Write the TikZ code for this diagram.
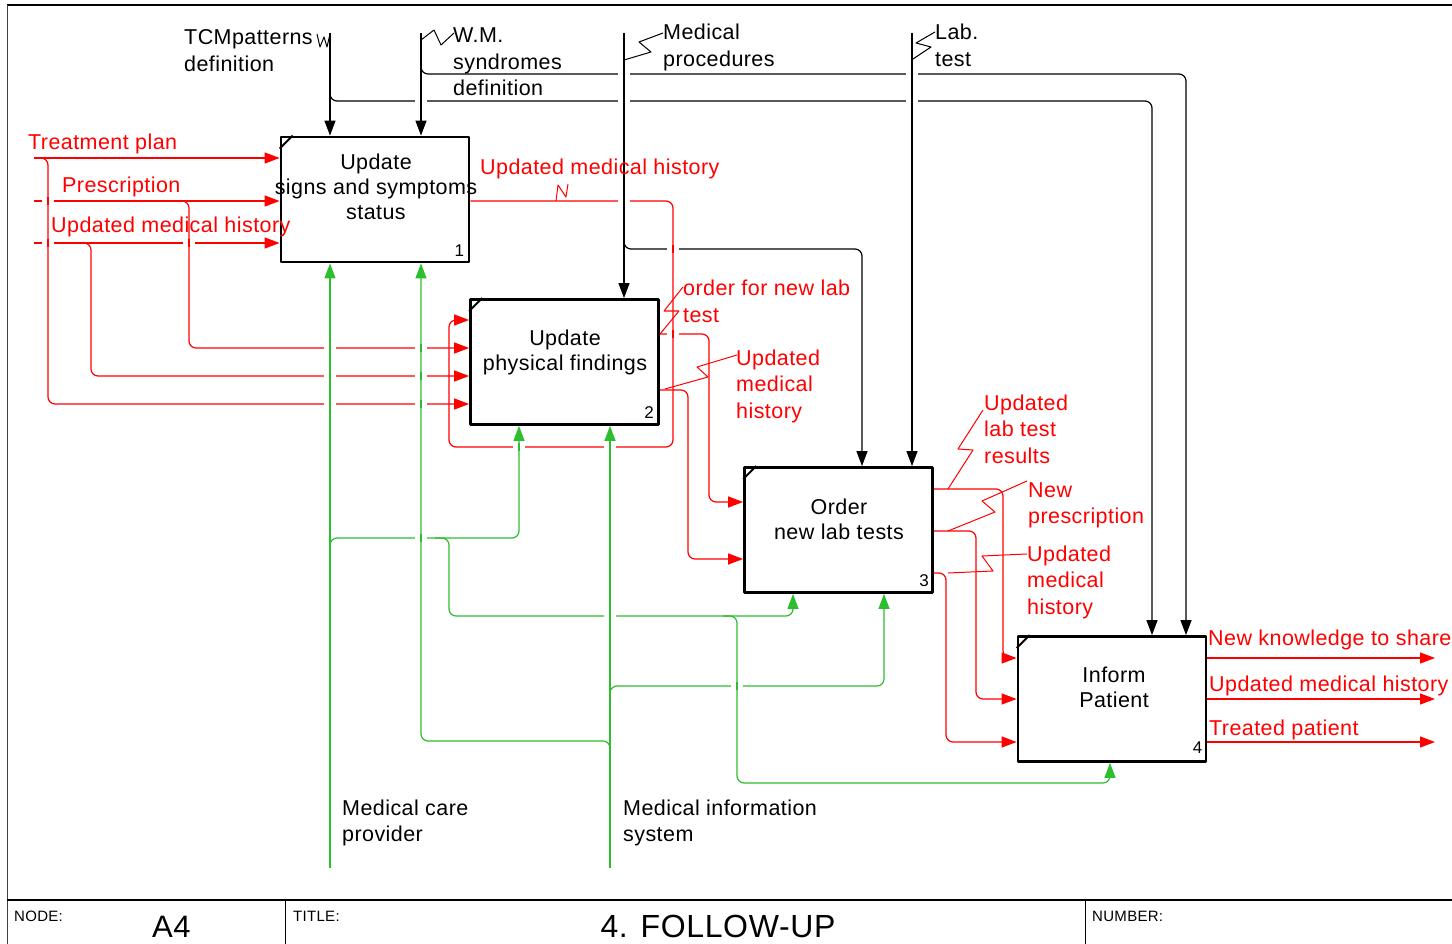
\documentclass[tikz,border=0pt]{standalone}
\usepackage{fontspec}
\setmainfont{Liberation Sans}[LetterSpace=2]
\usetikzlibrary{arrows.meta}
\definecolor{ired}{RGB}{255,0,0}
\definecolor{igreen}{RGB}{45,190,45}
\newcommand\ml[1]{\begin{tabular}[t]{@{}l@{}}#1\end{tabular}}
\newcommand\mc[1]{\begin{tabular}[t]{@{}c@{}}#1\end{tabular}}
\newcommand\xgap[3]{\fill[white] ({#1-6},{#2-2.6}) rectangle ({#1+6},{#2+2.6}); \draw[#3,line width=1.2pt] (#1,{#2-4}) -- (#1,{#2+4});}
\tikzset{
  box/.style={draw, line width=2.8pt, minimum width=188pt, minimum height=125pt, inner sep=0pt},
  fl/.style={line width=1.2pt, rounded corners=7pt},
  ctl/.style={fl, draw=black},
  inp/.style={fl, draw=ired},
  mech/.style={fl, draw=igreen},
  tip/.style={-{Triangle[length=15pt,width=11pt]}},
  sq/.style={line width=1pt, sharp corners},
  lab/.style={anchor=base west, inner sep=0pt, font=\fontsize{21.5}{26.5}\selectfont},
  redlab/.style={lab, text=ired},
  btxt/.style={anchor=base, inner sep=0pt, font=\fontsize{21.5}{25}\selectfont},
  bnum/.style={anchor=base east, inner sep=0pt, font=\fontsize{17}{19}\selectfont},
  tick/.style={line width=2pt},
  small/.style={anchor=base west, inner sep=0pt, font=\fontsize{15}{18}\selectfont},
}
\begin{document}
\begin{tikzpicture}[x=1pt,y=-1pt,line join=round]
\useasboundingbox (0,0) rectangle (1452,944);
\fill[white] (0,0) rectangle (1452,944);
% frame
\draw[line width=1.8pt] (7,5) -- (1452,5);
\draw[line width=1pt, black!75] (7,5) -- (7,944);
\draw[line width=2pt] (7,900) -- (1452,900);
\draw[line width=1pt] (285,900) -- (285,944);
\draw[line width=1pt] (1085,900) -- (1085,944);
% boxes
\node[box] (b1) at (375,199.5) {};
\node[box] (b2) at (564.5,362) {};
\node[box] (b3) at (838.5,530) {};
\node[box] (b4) at (1112,699) {};
\foreach \b in {b1,b2,b3,b4}
  \draw[tick] ([yshift=-13pt]\b.north west) -- ([xshift=13pt]\b.north west);
% free ends
\coordinate (tcm) at (330,33);
\coordinate (wm) at (421,33);
\coordinate (mp) at (624,33);
\coordinate (lt) at (912,33);
\coordinate (tp) at (34,158);
\coordinate (pr) at (34,201);
\coordinate (uh) at (34,243);
\coordinate (mc) at (330,868);
\coordinate (mi) at (610,868);
\coordinate (o1) at (1435,658);
\coordinate (o2) at (1435,699);
\coordinate (o3) at (1435,742);
% controls
\draw[ctl,tip] (tcm) -- (tcm |- b1.north);
\draw[ctl,tip] (330,88) -- (330,101) -- (1152,101) -- (1152,101 |- b4.north);
\draw[ctl,tip] (wm) -- (wm |- b1.north);
\draw[ctl,tip] (421,60) -- (421,74) -- (1186,74) -- (1186,74 |- b4.north);
\draw[ctl,tip] (mp) -- (mp |- b2.north);
\draw[ctl,tip] (624,235) -- (624,249) -- (862,249) -- (862,249 |- b3.north);
\draw[ctl,tip] (lt) -- (lt |- b3.north);
% inputs / outputs
\draw[inp,tip] (tp) -- (tp -| b1.west);
\draw[inp,tip] (tp) -- (48,158) -- (48,404) -- (48,404 -| b2.west);
\draw[inp,tip] (pr) -- (pr -| b1.west);
\draw[inp,tip] (175,201) -- (189,201) -- (189,348) -- (189,348 -| b2.west);
\draw[inp,tip] (uh) -- (uh -| b1.west);
\draw[inp,tip] (78,243) -- (91,243) -- (91,376) -- (91,376 -| b2.west);
\draw[inp,tip] (b1.east |- 0,201) -- (673,201) -- (673,447) -- (449,447) -- (449,320) -- (449,320 -| b2.west);
\draw[inp,tip] (b2.east |- 0,334) -- (709,334) -- (709,502) -- (709,502 -| b3.west);
\draw[inp,tip] (b2.east |- 0,390) -- (688,390) -- (688,559) -- (688,559 -| b3.west);
\draw[inp,tip] (b3.east |- 0,489) -- (1003,489) -- (1003,658) -- (1003,658 -| b4.west);
\draw[inp,tip] (b3.east |- 0,531) -- (976,531) -- (976,699) -- (976,699 -| b4.west);
\draw[inp,tip] (b3.east |- 0,573) -- (946,573) -- (946,742) -- (946,742 -| b4.west);
\draw[inp,tip] (b4.east |- o1) -- (o1);
\draw[inp,tip] (b4.east |- o2) -- (o2);
\draw[inp,tip] (b4.east |- o3) -- (o3);
% mechanisms
\draw[mech,tip] (mc) -- (mc |- b1.south);
\draw[mech,tip] (330,552) -- (330,538) -- (519,538) -- (519,538 |- b2.south);
\draw[mech,tip] (435,538) -- (449,538) -- (449,616) -- (793,616) -- (793,616 |- b3.south);
\draw[mech,tip] (723,616) -- (737,616) -- (737,783) -- (1110,783) -- (1110,783 |- b4.south);
\draw[mech,tip] (mi) -- (mi |- b2.south);
\draw[mech,tip] (610,700) -- (610,686) -- (884,686) -- (884,686 |- b3.south);
\draw[mech,tip] (610,755) -- (610,741) -- (421,741) -- (421,741 |- b1.south);
% crossing gaps
\xgap{624}{74}{black} \xgap{912}{74}{black}
\xgap{421}{101}{black} \xgap{624}{101}{black} \xgap{912}{101}{black}
\xgap{673}{249}{ired}
\xgap{624}{201}{black}
\xgap{48}{201}{ired} \xgap{48}{243}{ired} \xgap{189}{243}{ired}
\xgap{330}{348}{igreen} \xgap{421}{348}{igreen}
\xgap{330}{376}{igreen} \xgap{421}{376}{igreen}
\xgap{330}{404}{igreen} \xgap{421}{404}{igreen}
\xgap{673}{334}{ired}
\xgap{519}{447}{igreen} \xgap{610}{447}{igreen}
\xgap{421}{538}{igreen} \xgap{610}{616}{igreen} \xgap{737}{686}{igreen}
% squiggles
\draw[sq] (317,34) -- (320,47) -- (324,37) -- (327,47) -- (330,34);
\draw[sq] (421,40) -- (434,30) -- (441,45) -- (454,33);
\draw[sq] (624,60) -- (651,52) -- (639,42) -- (663,33);
\draw[sq] (913,59) -- (931,47) -- (916,43) -- (935,32);
\draw[sq,ired] (556,201) -- (558,185) -- (566,197) -- (568,184);
\draw[sq,ired] (660,334) -- (679,311) -- (664,311) -- (683,287);
\draw[sq,ired] (665,389) -- (708,377) -- (697,367) -- (737,355);
\draw[sq,ired] (948,489) -- (973,450) -- (958,449) -- (983,410);
\draw[sq,ired] (948,531) -- (995,512) -- (982,501) -- (1027,481);
\draw[sq,ired] (948,573) -- (993,571) -- (982,556) -- (1027,554);
% box texts
\node[btxt] (t1) at (376,170) {\mc{Update\\signs and symptoms\\status}};
\node[btxt] (t2) at (565,345) {\mc{Update\\physical findings}};
\node[btxt] (t3) at (839,514) {\mc{Order\\new lab tests}};
\node[btxt] (t4) at (1114,682) {\mc{Inform\\Patient}};
\node[bnum] (n1) at ([shift={(-6,-7)}]b1.south east) {1};
\node[bnum] (n2) at ([shift={(-6,-7)}]b2.south east) {2};
\node[bnum] (n3) at ([shift={(-5,-7)}]b3.south east) {3};
\node[bnum] (n4) at ([shift={(-5,-9)}]b4.south east) {4};
% labels
\node[lab] (lTCM) at (184,45) {\ml{TCMpatterns\\definition}};
\node[lab] (lWM) at (453,43) {\ml{W.M.\\syndromes\\definition}};
\node[lab] (lMP) at (663,40) {\ml{Medical\\procedures}};
\node[lab] (lLT) at (935,40) {\ml{Lab.\\test}};
\node[redlab] (lTP) at (28,150) {Treatment plan};
\node[redlab] (lPR) at (62,193) {Prescription};
\node[redlab] (lUH) at (51,233) {Updated medical history};
\node[redlab] (lU1) at (480,175) {Updated medical history};
\node[redlab] (lOR) at (683,296) {\ml{order for new lab\\test}};
\node[redlab] (lU2) at (736,365) {\ml{Updated\\medical\\history}};
\node[redlab] (lLR) at (984,410) {\ml{Updated\\lab test\\results}};
\node[redlab] (lNP) at (1028,497) {\ml{New\\prescription}};
\node[redlab] (lU3) at (1027,561) {\ml{Updated\\medical\\history}};
\node[redlab] (lNK) at (1208,645) {New knowledge to share};
\node[redlab] (lU4) at (1209,691) {Updated medical history};
\node[redlab] (lTR) at (1209,735) {Treated patient};
\node[lab] (lMC) at (342,815) {\ml{Medical care\\provider}};
\node[lab] (lMI) at (623,815) {\ml{Medical information\\system}};
% title block
\node[small] (tNode) at (14,921) {NODE:};
\node[anchor=base west, inner sep=0pt, font=\fontsize{31}{36}\selectfont] (tA4) at (152,937) {A4};
\node[small] (tTitle) at (293,921) {TITLE:};
\node[anchor=base, inner sep=0pt, font=\fontsize{32}{36}\selectfont] (tFU) at (718,937) {4. FOLLOW-UP};
\node[small] (tNum) at (1092,921) {NUMBER:};
\end{tikzpicture}
\end{document}
